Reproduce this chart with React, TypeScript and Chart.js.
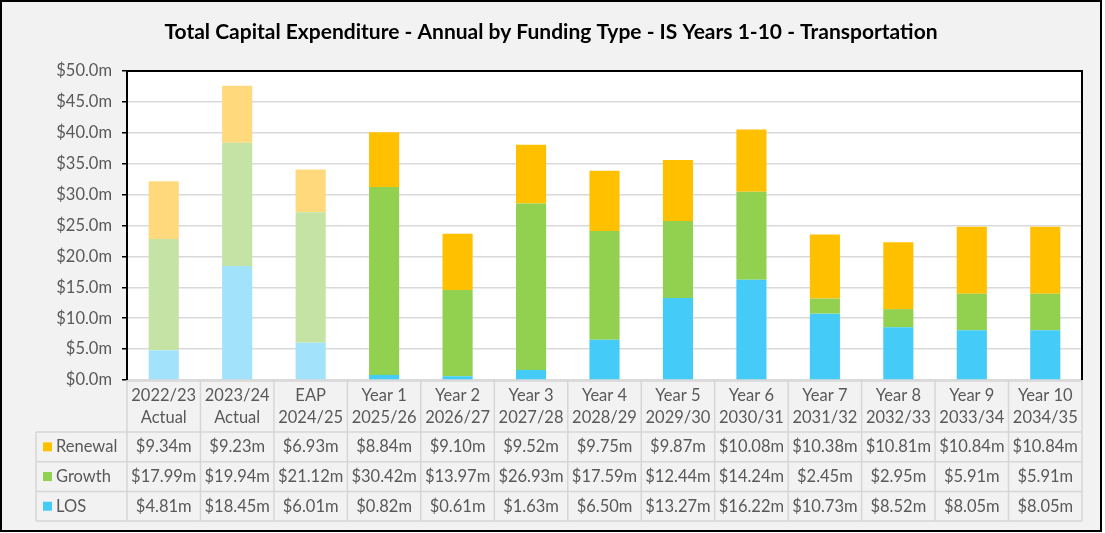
import React, { useEffect, useRef } from "react";
import { Chart, registerables } from "chart.js";

Chart.register(...registerables);

const titleText = "Total Capital Expenditure - Annual by Funding Type - IS Years 1-10 - Transportation";
const categoryLine1 = ["2022/23", "2023/24", "EAP", "Year 1", "Year 2", "Year 3", "Year 4", "Year 5", "Year 6", "Year 7", "Year 8", "Year 9", "Year 10"];
const categoryLine2 = ["Actual", "Actual", "2024/25", "2025/26", "2026/27", "2027/28", "2028/29", "2029/30", "2030/31", "2031/32", "2032/33", "2033/34", "2034/35"];
const renewal = [9.34, 9.23, 6.93, 8.84, 9.1, 9.52, 9.75, 9.87, 10.08, 10.38, 10.81, 10.84, 10.84];
const growth = [17.99, 19.94, 21.12, 30.42, 13.97, 26.93, 17.59, 12.44, 14.24, 2.45, 2.95, 5.91, 5.91];
const los = [4.81, 18.45, 6.01, 0.82, 0.61, 1.63, 6.5, 13.27, 16.22, 10.73, 8.52, 8.05, 8.05];
const historicCount = 3;
const yMin = 0;
const yMax = 50;
const yStep = 5;

const FONT = "Lato, 'Open Sans', sans-serif";
const TEXT = "#595959";

const seriesMeta = [
  { label: "Renewal", data: renewal, color: "#FFC000", light: "#FFD97B" },
  { label: "Growth", data: growth, color: "#92D050", light: "#C6E3A6" },
  { label: "LOS", data: los, color: "#45CBF7", light: "#A2E2FA" },
];

const fmt = (v: number) => "$" + v.toFixed(2) + "m";

const decorPlugin = {
  id: "decor",
  beforeDraw(chart: any) {
    const { ctx, width, height, chartArea } = chart;
    ctx.save();
    ctx.fillStyle = "#FFFFFF";
    ctx.fillRect(0, 0, width, height);
    ctx.fillStyle = "#F2F2F2";
    ctx.fillRect(1, 1, 1100, 530);
    ctx.strokeStyle = "#000";
    ctx.lineWidth = 2;
    ctx.strokeRect(1, 1, 1100, 530);
    ctx.fillStyle = "#FFFFFF";
    ctx.fillRect(chartArea.left, chartArea.top, chartArea.right - chartArea.left, chartArea.bottom - chartArea.top);
    // title
    ctx.fillStyle = "#000";
    ctx.font = "bold 21px " + FONT;
    ctx.textAlign = "center";
    ctx.textBaseline = "middle";
    ctx.fillText(titleText, 551, 32);
    ctx.restore();
  },
  afterDraw(chart: any) {
    const { ctx, chartArea } = chart;
    const xs = chart.scales.x;
    const n = categoryLine1.length;
    const colW = (chartArea.right - chartArea.left) / n;
    const left = chartArea.left;
    const right = chartArea.right;
    const top = chartArea.bottom;
    const headerBottom = top + 52;
    const rowH = 29.7;
    const tableBottom = headerBottom + rowH * 3;
    const labelLeft = 36;
    ctx.save();
    // plot border (top & right)
    ctx.strokeStyle = "#000";
    ctx.lineWidth = 2;
    ctx.beginPath();
    ctx.moveTo(left - 1, chartArea.top);
    ctx.lineTo(right, chartArea.top);
    ctx.lineTo(right, chartArea.bottom);
    ctx.stroke();
    // table grid
    ctx.strokeStyle = "#D6D6D6";
    ctx.lineWidth = 1.5;
    ctx.beginPath();
    ctx.moveTo(left, top + 1);
    ctx.lineTo(right, top + 1);
    for (let r = 0; r <= 3; r++) {
      const y = headerBottom + r * rowH;
      ctx.moveTo(labelLeft, y);
      ctx.lineTo(right, y);
    }
    for (let c = 0; c <= n; c++) {
      const x = left + c * colW;
      ctx.moveTo(x, top);
      ctx.lineTo(x, tableBottom);
    }
    ctx.moveTo(labelLeft, headerBottom);
    ctx.lineTo(labelLeft, tableBottom);
    ctx.stroke();
    // header text
    ctx.fillStyle = TEXT;
    ctx.font = "16.5px " + FONT;
    ctx.textAlign = "center";
    ctx.textBaseline = "middle";
    for (let c = 0; c < n; c++) {
      const cx = xs.getPixelForValue(c);
      ctx.fillText(categoryLine1[c], cx, top + 16);
      ctx.fillText(categoryLine2[c], cx, top + 38);
    }
    // rows
    seriesMeta.forEach((s, r) => {
      const cy = headerBottom + r * rowH + rowH / 2;
      ctx.fillStyle = s.color;
      ctx.fillRect(43, cy - 4.5, 9, 9);
      ctx.fillStyle = TEXT;
      ctx.textAlign = "left";
      ctx.fillText(s.label, 56, cy);
      ctx.textAlign = "center";
      for (let c = 0; c < n; c++) {
        ctx.fillText(fmt(s.data[c]), xs.getPixelForValue(c), cy);
      }
    });
    ctx.restore();
  },
};

export default function App() {
  const ref = useRef<HTMLCanvasElement | null>(null);
  useEffect(() => {
    if (!ref.current) return;
    const order = [2, 1, 0];
    const datasets = order.map((i) => {
      const s = seriesMeta[i];
      return {
        label: s.label,
        data: s.data,
        backgroundColor: s.data.map((_, k) => (k < historicCount ? s.light : s.color)),
        borderWidth: 0,
        barPercentage: 0.41,
        categoryPercentage: 1,
      };
    });
    const chart = new Chart(ref.current, {
      type: "bar",
      data: { labels: categoryLine1.map((a, i) => a + " " + categoryLine2[i]), datasets },
      options: {
        animation: false,
        responsive: false,
        devicePixelRatio: 1,
        layout: { padding: { left: 0, top: 71, right: 23, bottom: 153 } },
        plugins: {
          legend: { display: false },
          title: { display: false },
          tooltip: { enabled: false },
        },
        scales: {
          x: { stacked: true, display: false, offset: true },
          y: {
            stacked: true,
            min: yMin,
            max: yMax,
            afterFit: (s: any) => {
              s.width = 127;
            },
            ticks: {
              stepSize: yStep,
              padding: 10,
              color: TEXT,
              font: { family: FONT, size: 16.5 },
              callback: (v: any) => "$" + Number(v).toFixed(1) + "m",
            },
            grid: { color: "#D9D9D9", lineWidth: 1.5, tickLength: 5, tickColor: "#000", drawTicks: true },
            border: { color: "#000", width: 2 },
          },
        },
      },
      plugins: [decorPlugin],
    });
    return () => chart.destroy();
  }, []);
  return (
    <div style={{ position: "absolute", left: 0, top: 0, width: 1105, height: 533 }}>
      <canvas ref={ref} width={1105} height={533} style={{ display: "block" }} />
    </div>
  );
}
